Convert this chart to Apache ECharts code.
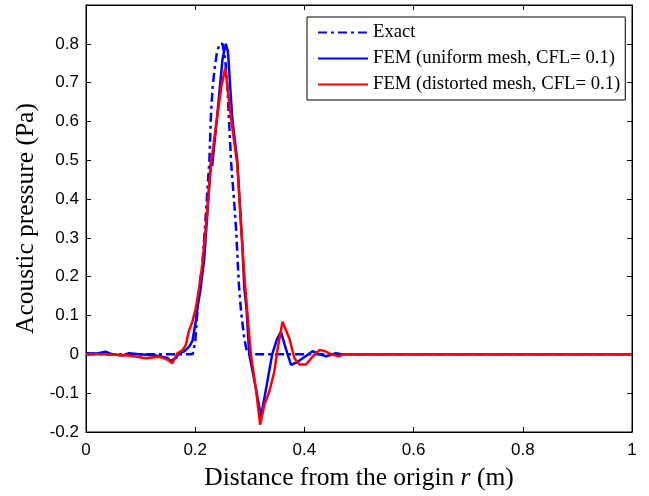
<!DOCTYPE html>
<html>
<head>
<meta charset="utf-8">
<script src="https://cdn.jsdelivr.net/npm/echarts@6/dist/echarts.min.js"></script>
<style>html,body{margin:0;padding:0;background:#fff}#c{width:649px;height:496px}</style>
</head>
<body>
<div id="c"></div>
<script>
// ---- data ----
var seriesNames = ['Exact', 'FEM (uniform mesh, CFL= 0.1)', 'FEM (distorted mesh, CFL= 0.1)'];
var xTicks = [0, 0.2, 0.4, 0.6, 0.8, 1];
var yTicks = [-0.2, -0.1, 0, 0.1, 0.2, 0.3, 0.4, 0.5, 0.6, 0.7, 0.8];

var exact = [
  [0,0],[0.19,0],[0.195,0],[0.2,0.03],[0.204,0.11],[0.208,0.18],[0.213,0.23],[0.219,0.35],
  [0.226,0.5],[0.229,0.62],[0.232,0.69],[0.236,0.74],[0.24,0.78],[0.245,0.8],[0.25,0.8],
  [0.255,0.76],[0.259,0.69],[0.262,0.6],[0.266,0.49],[0.271,0.4],[0.275,0.32],[0.28,0.18],
  [0.284,0.11],[0.29,0.04],[0.295,0.005],[0.3,0],[1,0]
];
var uniform = [
  [0,0.003],[0.02,0.002],[0.036,0.007],[0.048,0],[0.067,-0.003],[0.079,0.003],[0.097,0],
  [0.128,-0.003],[0.149,-0.009],[0.155,-0.017],[0.165,-0.009],[0.17,0.003],[0.18,0.008],
  [0.189,0.02],[0.195,0.035],[0.201,0.085],[0.204,0.118],[0.21,0.17],[0.2165,0.246],
  [0.229,0.5],[0.231,0.485],[0.24,0.61],[0.25,0.76],[0.256,0.8],[0.26,0.78],[0.268,0.605],
  [0.277,0.5],[0.286,0.29],[0.29,0.17],[0.294,0.118],[0.299,0],[0.311,-0.087],[0.3205,-0.16],
  [0.33,-0.087],[0.341,0],[0.35,0.04],[0.357,0.058],[0.366,0.015],[0.3755,-0.027],
  [0.387,-0.02],[0.397,-0.01],[0.415,0.008],[0.4275,0],[0.44,-0.005],[0.458,0.003],[0.47,0],[1,0]
];
var distorted = [
  [0,0],[0.03,0],[0.079,-0.003],[0.1095,-0.01],[0.134,-0.006],[0.151,-0.015],[0.158,-0.023],
  [0.1676,0.003],[0.177,0.011],[0.183,0.025],[0.188,0.058],[0.195,0.085],[0.201,0.118],
  [0.207,0.17],[0.213,0.229],[0.2196,0.33],[0.229,0.49],[0.238,0.588],[0.248,0.69],
  [0.255,0.738],[0.2655,0.61],[0.277,0.49],[0.284,0.33],[0.29,0.203],[0.295,0.118],
  [0.302,0],[0.311,-0.087],[0.319,-0.181],[0.3266,-0.13],[0.336,-0.095],[0.345,-0.044],
  [0.351,0.015],[0.36,0.084],[0.3725,0.041],[0.3817,-0.01],[0.391,-0.026],[0.403,-0.026],
  [0.415,-0.006],[0.4275,0.011],[0.4367,0.009],[0.449,0],[0.464,-0.005],[0.47,0],[1,0]
];

var chart = echarts.init(document.getElementById('c'), null, {renderer: 'canvas'});
var tickStyle = {show: true, inside: true, length: 5, lineStyle: {color: '#000', width: 1}};
var lblStyle = {color: '#000', fontFamily: 'Liberation Sans', fontSize: 17};
chart.setOption({
  animation: false,
  backgroundColor: '#fff',
  grid: {left: 86, right: 17, top: 5, bottom: 62, show: true, borderColor: '#000', borderWidth: 1, containLabel: false},
  legend: {
    show: true,
    orient: 'vertical', left: 307, top: 17,
    itemWidth: 50, itemHeight: 14, itemGap: 7,
    padding: [6, 5, 6, 10],
    borderColor: '#000', borderWidth: 1, backgroundColor: '#fff',
    itemStyle: {opacity: 0},
    textStyle: {fontFamily: 'Liberation Serif', fontSize: 18.7, color: '#000'},
    data: seriesNames
  },
  xAxis: [{
    type: 'value', min: 0, max: 1, interval: 0.2, position: 'bottom',
    axisLine: {show: true, onZero: false, lineStyle: {color: '#000', width: 1}},
    axisTick: tickStyle, splitLine: {show: false},
    axisLabel: Object.assign({margin: 10, formatter: function (v) { return String(Math.round(v * 10) / 10); }}, lblStyle),
    name: 'Distance from the origin {i|r} (m)', nameLocation: 'middle', nameGap: 33,
    nameTextStyle: {fontFamily: 'Liberation Serif', fontSize: 25.5, color: '#000',
      rich: {i: {fontFamily: 'Liberation Serif', fontStyle: 'italic', fontSize: 25.5, color: '#000'}}}
  }, {
    type: 'value', min: 0, max: 1, interval: 0.2, position: 'top',
    axisLine: {show: true, onZero: false, lineStyle: {color: '#000'}}, axisTick: tickStyle,
    axisLabel: {show: false}, splitLine: {show: false}
  }],
  yAxis: [{
    type: 'value', min: -0.2, max: 0.9, interval: 0.1, position: 'left',
    axisLine: {show: true, onZero: false, lineStyle: {color: '#000', width: 1}},
    axisTick: tickStyle, splitLine: {show: false},
    axisLabel: Object.assign({margin: 7, formatter: function (v) { var r = Math.round(v * 10) / 10; return r > 0.85 ? '' : String(r); }}, lblStyle),
    name: 'Acoustic pressure (Pa)', nameLocation: 'middle', nameGap: 44,
    nameTextStyle: {fontFamily: 'Liberation Serif', fontSize: 25.5, color: '#000'}
  }, {
    type: 'value', min: -0.2, max: 0.9, interval: 0.1, position: 'right',
    axisLine: {show: true, onZero: false, lineStyle: {color: '#000'}}, axisTick: tickStyle,
    axisLabel: {show: false}, splitLine: {show: false}
  }],
  series: [
    {name: seriesNames[0], type: 'line', data: exact, showSymbol: false, symbol: 'none',
     lineStyle: {color: '#0000ff', width: 2.5, type: [9, 4, 3, 4]}, itemStyle: {color: '#0000ff'}, z: 2},
    {name: seriesNames[1], type: 'line', data: uniform, showSymbol: false, symbol: 'none',
     lineStyle: {color: '#0000ff', width: 2.5}, itemStyle: {color: '#0000ff'}, z: 3},
    {name: seriesNames[2], type: 'line', data: distorted, showSymbol: false, symbol: 'none',
     lineStyle: {color: '#ff0000', width: 2.5}, itemStyle: {color: '#ff0000'}, z: 4}
  ]
});
</script>
</body>
</html>
